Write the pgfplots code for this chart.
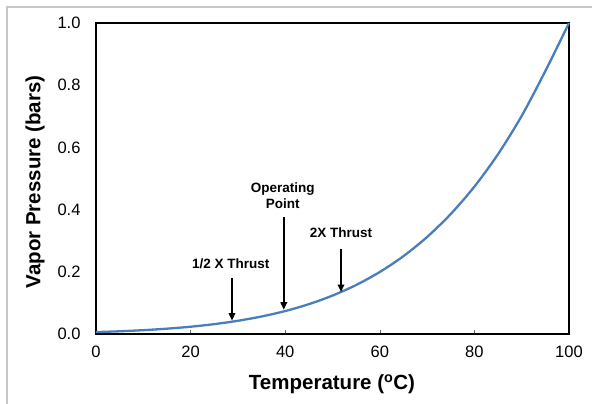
\documentclass[border=0pt]{standalone}
\usepackage{fontspec}
\setmainfont{Liberation Sans}
\usepackage{pgfplots}
\pgfplotsset{compat=1.18}
\usetikzlibrary{arrows.meta}
\definecolor{curveblue}{HTML}{4A7EBB}

\begin{document}
\begin{tikzpicture}[x=1pt,y=1pt]
\useasboundingbox (0,0) rectangle (592,404);
\draw[black!22, line width=1.2pt] (7,0) -- (7,397) -- (592,397);
\begin{axis}[
    at={(96pt,70pt)}, anchor=south west,
    scale only axis, width=473pt, height=311pt,
    xmin=0, xmax=100, ymin=0, ymax=1,
    xtick={0,20,...,100},
    ytick={0,0.2,...,1.0},
    yticklabel style={/pgf/number format/fixed, /pgf/number format/fixed zerofill, /pgf/number format/precision=1},
    /pgf/number format/assume math mode=true,
    tick label style={font=\fontsize{16.5}{18}\selectfont},
    xticklabel style={yshift=-8pt},
    yticklabel style={xshift=-12pt},
    tick align=inside,
    xtick pos=bottom,
    major tick length=4pt,
    ytick style={draw=none},
    tick style={black!60, line width=0.6pt},
    axis line style={black, line width=1.3pt},
    xlabel={\textbf{Temperature (\textsuperscript{o}C)}},
    ylabel={\textbf{Vapor Pressure (bars)}},
    label style={font=\fontsize{20.5}{22}\selectfont},
    xlabel style={at={(axis description cs:0.499,-0.161)}, anchor=center},
    ylabel style={at={(axis description cs:-0.129,0.489)}, anchor=center, rotate=0},
    clip=false,
]
\addplot[curveblue, line width=2.3pt, smooth] coordinates {
    (0,0.0061)(5,0.0087)(10,0.0123)(15,0.0171)(20,0.0234)(25,0.0317)
    (30,0.0425)(35,0.0563)(40,0.0738)(45,0.0959)(50,0.1235)(55,0.1576)
    (60,0.1994)(65,0.2503)(70,0.3119)(75,0.3858)(80,0.4739)(85,0.5783)
    (90,0.7014)(95,0.8455)(100,1.0)
};
\begin{scope}[font=\bfseries\fontsize{13.5}{15.5}\selectfont]
\draw[line width=1.7pt, -{Triangle[length=7.5pt,width=6.5pt]}] (axis cs:28.75,0.180) -- (axis cs:28.75,0.043);
\node at (axis cs:28.5,0.225) {1/2 X Thrust};
\draw[line width=1.7pt, -{Triangle[length=7.5pt,width=6.5pt]}] (axis cs:39.7,0.376) -- (axis cs:39.7,0.078);
\node[align=center] at (axis cs:39.5,0.445) {Operating\\Point};
\draw[line width=1.7pt, -{Triangle[length=7.5pt,width=6.5pt]}] (axis cs:51.8,0.273) -- (axis cs:51.8,0.135);
\node at (axis cs:51.8,0.325) {2X Thrust};
\end{scope}
\end{axis}
\end{tikzpicture}
\end{document}
